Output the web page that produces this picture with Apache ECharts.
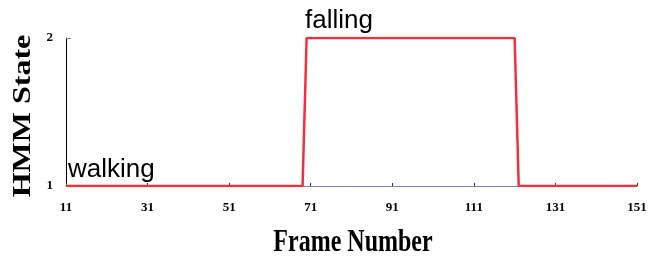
<!DOCTYPE html>
<html>
<head>
<meta charset="utf-8">
<script src="https://cdn.jsdelivr.net/npm/echarts@6/dist/echarts.min.js"></script>
<style>
  html, body { margin:0; padding:0; background:#fff; }
  #main { width:652px; height:259px; }
</style>
</head>
<body>
<div id="main"></div>
<script>
// frame ticks shown on the x axis
var frameTicks = [11, 31, 51, 71, 91, 111, 131, 151];
// HMM state changes: [frame, state]
var statePoints = [[11, 1], [69, 1], [70, 2], [121, 2], [122, 1], [151, 1]];
var stateTicks = [1, 2];

var myChart = echarts.init(document.getElementById('main'));

var option = {
    animation: false,
    backgroundColor: '#fff',
    grid: { left: 66, right: 15, top: 38, bottom: 73 },
    xAxis: {
        type: 'value',
        min: 11,
        max: 151,
        axisLine: { show: true, lineStyle: { color: '#7e7eb4', width: 1 } },
        axisTick: { show: true, inside: true, length: 3, customValues: frameTicks, lineStyle: { color: '#333' } },
        axisLabel: {
            customValues: frameTicks,
            margin: 15,
            fontFamily: 'Liberation Serif',
            fontWeight: 'bold',
            fontSize: 13,
            color: '#000'
        },
        splitLine: { show: false }
    },
    yAxis: {
        type: 'value',
        min: 1,
        max: 2,
        axisLine: { show: true, lineStyle: { color: '#000', width: 1 } },
        axisTick: { show: true, inside: true, length: 5, customValues: [2], lineStyle: { color: '#888' } },
        axisLabel: {
            customValues: stateTicks,
            margin: 13,
            fontFamily: 'Liberation Serif',
            fontWeight: 'bold',
            fontSize: 13,
            color: '#000'
        },
        splitLine: { show: false }
    },
    graphic: [
        { type: 'text', left: 305, top: 8, style: { text: 'falling', font: '26px "Liberation Sans"', fill: '#000' } },
        { type: 'text', left: 68, top: 157, style: { text: 'walking', font: '26px "Liberation Sans"', fill: '#000' } },
        { type: 'text', x: 353, y: 243, scaleY: 1.35,
          style: { text: 'Frame Number', font: 'bold 24px "Liberation Serif"', fill: '#000', align: 'center', verticalAlign: 'middle' } },
        { type: 'text', x: 24, y: 116, rotation: Math.PI / 2, scaleX: 1.28,
          style: { text: 'HMM State', font: 'bold 25px "Liberation Serif"', fill: '#000', align: 'center', verticalAlign: 'middle' } }
    ],
    series: [{
        name: 'HMM State',
        type: 'line',
        data: statePoints,
        symbol: 'none',
        lineStyle: { color: '#f2303c', width: 2.5 },
        z: 5
    }]
};

myChart.setOption(option);
</script>
</body>
</html>
